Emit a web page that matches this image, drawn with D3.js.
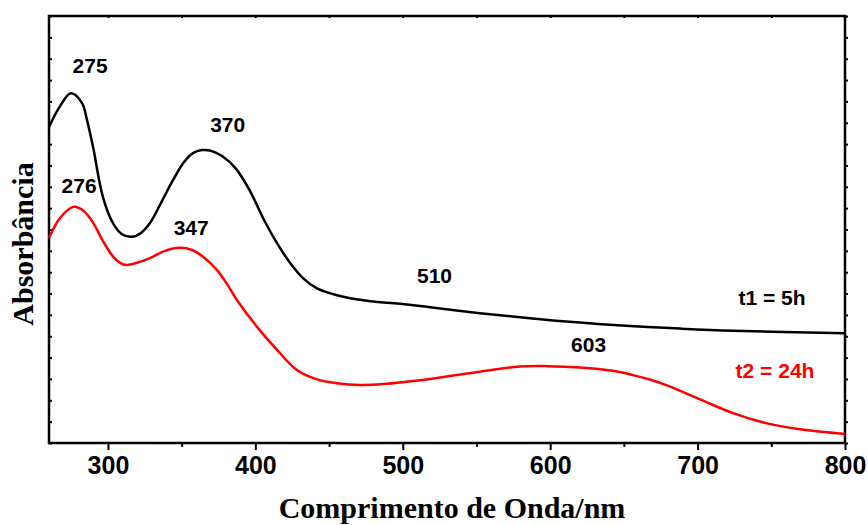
<!DOCTYPE html>
<html lang="pt">

<head>
    <meta charset="UTF-8">
    <script src="https://cdnjs.cloudflare.com/ajax/libs/d3/7.8.5/d3.min.js"></script>
    <title>Absorbância</title>
    <style>
        body { margin: 0; background: #fff; }
    </style>
</head>

<body>
    <div id="content"></div>
</body>
<script>
    // t1 = 5h (black)
    const wlT1 = [260, 267.5, 274.9, 282.4, 285.8, 289.9, 296.6, 303.4, 309.5, 316.1, 322.4, 328.5, 336.7, 344.2, 351.6, 357.7, 363.8, 369.2, 377.4, 386.9, 396.4, 405.2, 414.7, 423.5, 432.3, 441.8, 455.4, 475.7, 498.1, 518.5, 552.4, 586.3, 620.2, 654.2, 688.1, 724, 800]
    const absT1 = [0.740, 0.789, 0.819, 0.796, 0.756, 0.693, 0.576, 0.515, 0.489, 0.483, 0.492, 0.515, 0.567, 0.616, 0.658, 0.679, 0.686, 0.685, 0.672, 0.642, 0.590, 0.527, 0.468, 0.422, 0.386, 0.362, 0.346, 0.333, 0.326, 0.318, 0.304, 0.292, 0.282, 0.274, 0.268, 0.263, 0.257]
    // t2 = 24h (red)
    const wlT2 = [260, 267.5, 276.5, 283.7, 290.1, 296.6, 303.6, 308.2, 312.7, 319.7, 328.5, 338.7, 348.9, 357, 364.5, 374, 380.8, 387.5, 401.1, 414.7, 428.2, 441.8, 455.4, 471, 486.6, 518.5, 552.4, 579.5, 597.9, 620.2, 642.6, 656.2, 668, 679.2, 701.7, 724, 747.1, 769.5, 800]
    const absT2 = [0.480, 0.527, 0.553, 0.543, 0.515, 0.473, 0.436, 0.422, 0.417, 0.422, 0.433, 0.450, 0.457, 0.452, 0.436, 0.405, 0.372, 0.335, 0.272, 0.218, 0.171, 0.149, 0.140, 0.136, 0.138, 0.150, 0.167, 0.179, 0.180, 0.177, 0.169, 0.159, 0.148, 0.135, 0.102, 0.070, 0.046, 0.032, 0.021]
    const xTicks = [300, 400, 500, 600, 700, 800]
    const xMinor = [350, 450, 550, 650, 750]
    const peaks = [
        { text: '275', wl: 275, a: 0.819, dx: 19, dy: -20 },
        { text: '370', wl: 369, a: 0.685, dx: 18, dy: -18.5 },
        { text: '276', wl: 276, a: 0.553, dx: 6.5, dy: -13.5 },
        { text: '347', wl: 349, a: 0.457, dx: 11, dy: -13 },
        { text: '510', wl: 510, a: 0.321, dx: 17, dy: -23 },
        { text: '603', wl: 603, a: 0.180, dx: 34, dy: -14.5 }
    ]

    const width = 868
    const height = 525
    const m = { left: 49, right: 23, top: 16, bottom: 82 }

    const x = d3.scaleLinear().domain([260, 800]).range([m.left, width - m.right])
    const y = d3.scaleLinear().domain([0, 1]).range([height - m.bottom, m.top])

    const svg = d3.select('#content').append('svg')
        .attr('width', width)
        .attr('height', height)
        .style('font-family', '"Liberation Sans", Arial, sans-serif')

    //-Axes
    const bottom = svg.append('g')
        .attr('transform', `translate(0,${height - m.bottom})`)
        .call(d3.axisBottom(x).tickValues(xTicks).tickSize(7).tickPadding(6))
    bottom.selectAll('text').style('font-size', '25px').style('font-weight', 'bold').attr('dy', '0.72em')
    svg.append('g')
        .attr('transform', `translate(0,${height - m.bottom})`)
        .call(d3.axisBottom(x).tickValues(xMinor).tickSize(4).tickFormat(''))
    svg.append('g')
        .attr('transform', `translate(0,${m.top})`)
        .call(d3.axisBottom(x).tickValues(xTicks.concat(xMinor)).tickSize(2).tickFormat(''))
    svg.append('g')
        .attr('transform', `translate(${m.left},0)`)
        .call(d3.axisRight(y).ticks(20).tickSize(3).tickFormat(''))
    svg.append('g')
        .attr('transform', `translate(${width - m.right},0)`)
        .call(d3.axisRight(y).ticks(20).tickSize(3).tickFormat(''))
    svg.selectAll('.domain').remove()
    svg.selectAll('.tick line').attr('stroke', '#000').attr('stroke-width', 2)

    svg.append('rect')
        .attr('x', m.left)
        .attr('y', m.top)
        .attr('width', width - m.left - m.right)
        .attr('height', height - m.top - m.bottom)
        .attr('fill', 'none')
        .attr('stroke', '#000')
        .attr('stroke-width', 2.5)

    //-Curves
    const line = d3.line().curve(d3.curveCatmullRom.alpha(0.5))
    svg.append('path')
        .attr('d', line(wlT1.map((w, i) => [x(w), y(absT1[i])])))
        .attr('fill', 'none')
        .attr('stroke', '#000')
        .attr('stroke-width', 2.5)
    svg.append('path')
        .attr('d', line(wlT2.map((w, i) => [x(w), y(absT2[i])])))
        .attr('fill', 'none')
        .attr('stroke', '#ff0000')
        .attr('stroke-width', 2.5)

    //-Labels
    svg.selectAll('.peak')
        .data(peaks)
        .enter()
        .append('text')
        .attr('class', 'peak')
        .attr('x', d => x(d.wl) + d.dx)
        .attr('y', d => y(d.a) + d.dy)
        .attr('text-anchor', 'middle')
        .style('font-size', '21px')
        .style('font-weight', 'bold')
        .text(d => d.text)

    svg.append('text')
        .attr('x', 772)
        .attr('y', 305)
        .attr('text-anchor', 'middle')
        .style('font-size', '21px')
        .style('font-weight', 'bold')
        .text('t1 = 5h')
    svg.append('text')
        .attr('x', 775)
        .attr('y', 378)
        .attr('text-anchor', 'middle')
        .style('font-size', '21px')
        .style('font-weight', 'bold')
        .attr('fill', '#ff0000')
        .text('t2 = 24h')

    svg.append('text')
        .attr('x', 452)
        .attr('y', 518)
        .attr('text-anchor', 'middle')
        .style('font-family', '"Liberation Serif", "Times New Roman", serif')
        .style('font-size', '30px')
        .style('font-weight', 'bold')
        .text('Comprimento de Onda/nm')
    svg.append('text')
        .attr('transform', 'translate(33,244) rotate(-90)')
        .attr('text-anchor', 'middle')
        .style('font-family', '"Liberation Serif", "Times New Roman", serif')
        .style('font-size', '30px')
        .style('font-weight', 'bold')
        .text('Absorbância')
</script>

</html>
